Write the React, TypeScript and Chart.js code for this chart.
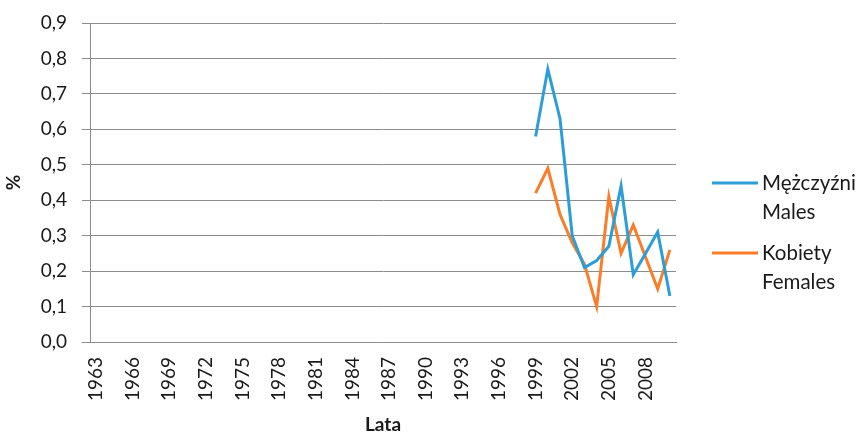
import React, { useEffect, useRef } from "react";
import { Chart, registerables } from "chart.js";

Chart.register(...registerables);

const firstYear = 1963;
const lastYear = 2010;
const categories: string[] = [];
for (let y = firstYear; y <= lastYear; y++) categories.push(String(y));

const dataStartYear = 1999;
const malesValues = [0.58, 0.77, 0.63, 0.30, 0.21, 0.23, 0.27, 0.44, 0.19, 0.25, 0.31, 0.13];
const femalesValues = [0.42, 0.49, 0.36, 0.28, 0.22, 0.10, 0.41, 0.25, 0.33, 0.24, 0.15, 0.26];

const yTicks = [0, 0.1, 0.2, 0.3, 0.4, 0.5, 0.6, 0.7, 0.8, 0.9];

const maleLabel = ["Mężczyźni", "Males"];
const femaleLabel = ["Kobiety", "Females"];

const BLUE = "#2B9ED8";
const ORANGE = "#FA7D2A";
const GRID = "#8C8C8C";
const FONT = "Lato, 'Open Sans', sans-serif";

function pad(values: number[]): (number | null)[] {
  return categories.map((c) => {
    const i = Number(c) - dataStartYear;
    return i >= 0 && i < values.length ? values[i] : null;
  });
}

const legendPlugin = {
  id: "customLegend",
  afterDraw(chart: any) {
    const ctx = chart.ctx;
    const items = [
      { color: BLUE, text: maleLabel, y: 183 },
      { color: ORANGE, text: femaleLabel, y: 253 },
    ];
    ctx.save();
    ctx.font = `20.5px ${FONT}`;
    ctx.fillStyle = "#1a1a1a";
    ctx.textBaseline = "middle";
    items.forEach((it) => {
      ctx.strokeStyle = it.color;
      ctx.lineWidth = 3;
      ctx.beginPath();
      ctx.moveTo(712, it.y);
      ctx.lineTo(758, it.y);
      ctx.stroke();
      it.text.forEach((t, k) => ctx.fillText(t, 762, it.y + k * 29));
    });
    ctx.restore();
  },
};

export default function App() {
  const ref = useRef<HTMLCanvasElement | null>(null);
  useEffect(() => {
    document.body.style.margin = "0";
    const chart = new Chart(ref.current!, {
      type: "line",
      data: {
        labels: categories,
        datasets: [
          {
            label: maleLabel.join(" "),
            data: pad(malesValues),
            borderColor: BLUE,
            backgroundColor: BLUE,
            borderWidth: 3,
            pointRadius: 0,
            tension: 0,
          },
          {
            label: femaleLabel.join(" "),
            data: pad(femalesValues),
            borderColor: ORANGE,
            backgroundColor: ORANGE,
            borderWidth: 3,
            pointRadius: 0,
            tension: 0,
          },
        ],
      },
      options: {
        animation: false,
        responsive: false,
        layout: { padding: { top: 23, right: 183, left: 0, bottom: 0 } },
        plugins: { legend: { display: false }, tooltip: { enabled: false } },
        scales: {
          x: {
            offset: true,
            afterFit: (s: any) => {
              s.height = 91;
              s.paddingLeft = 0;
              s.paddingRight = 0;
            },
            grid: { display: false, drawTicks: false },
            border: { color: GRID, width: 1 },
            ticks: {
              autoSkip: false,
              minRotation: 90,
              maxRotation: 90,
              padding: 15,
              color: "#1a1a1a",
              font: { family: FONT, size: 19 },
              callback: (v: any, i: number) => (i % 3 === 0 ? categories[i] : ""),
            },
            title: {
              display: true,
              text: "Lata",
              color: "#1a1a1a",
              font: { family: FONT, size: 19, weight: "bold" },
              padding: { top: 0, bottom: -3 },
            },
          },
          y: {
            min: 0,
            max: 0.9,
            afterFit: (s: any) => {
              s.width = 90;
              s.paddingTop = 0;
              s.paddingBottom = 0;
            },
            afterBuildTicks: (s: any) => {
              s.ticks = yTicks.map((v) => ({ value: v }));
            },
            grid: { color: GRID, tickLength: 8, drawTicks: true },
            border: { color: GRID, width: 1 },
            ticks: {
              padding: 15,
              color: "#1a1a1a",
              font: { family: FONT, size: 19 },
              callback: (v: any) => Number(v).toFixed(1).replace(".", ","),
            },
            title: {
              display: true,
              text: "%",
              color: "#1a1a1a",
              font: { family: FONT, size: 19, weight: "bold" },
              padding: { top: 2, bottom: 0 },
            },
          },
        },
      },
      plugins: [legendPlugin],
    });
    return () => chart.destroy();
  }, []);
  return (
    <div style={{ width: 859, height: 433 }}>
      <canvas ref={ref} width={859} height={433} />
    </div>
  );
}
